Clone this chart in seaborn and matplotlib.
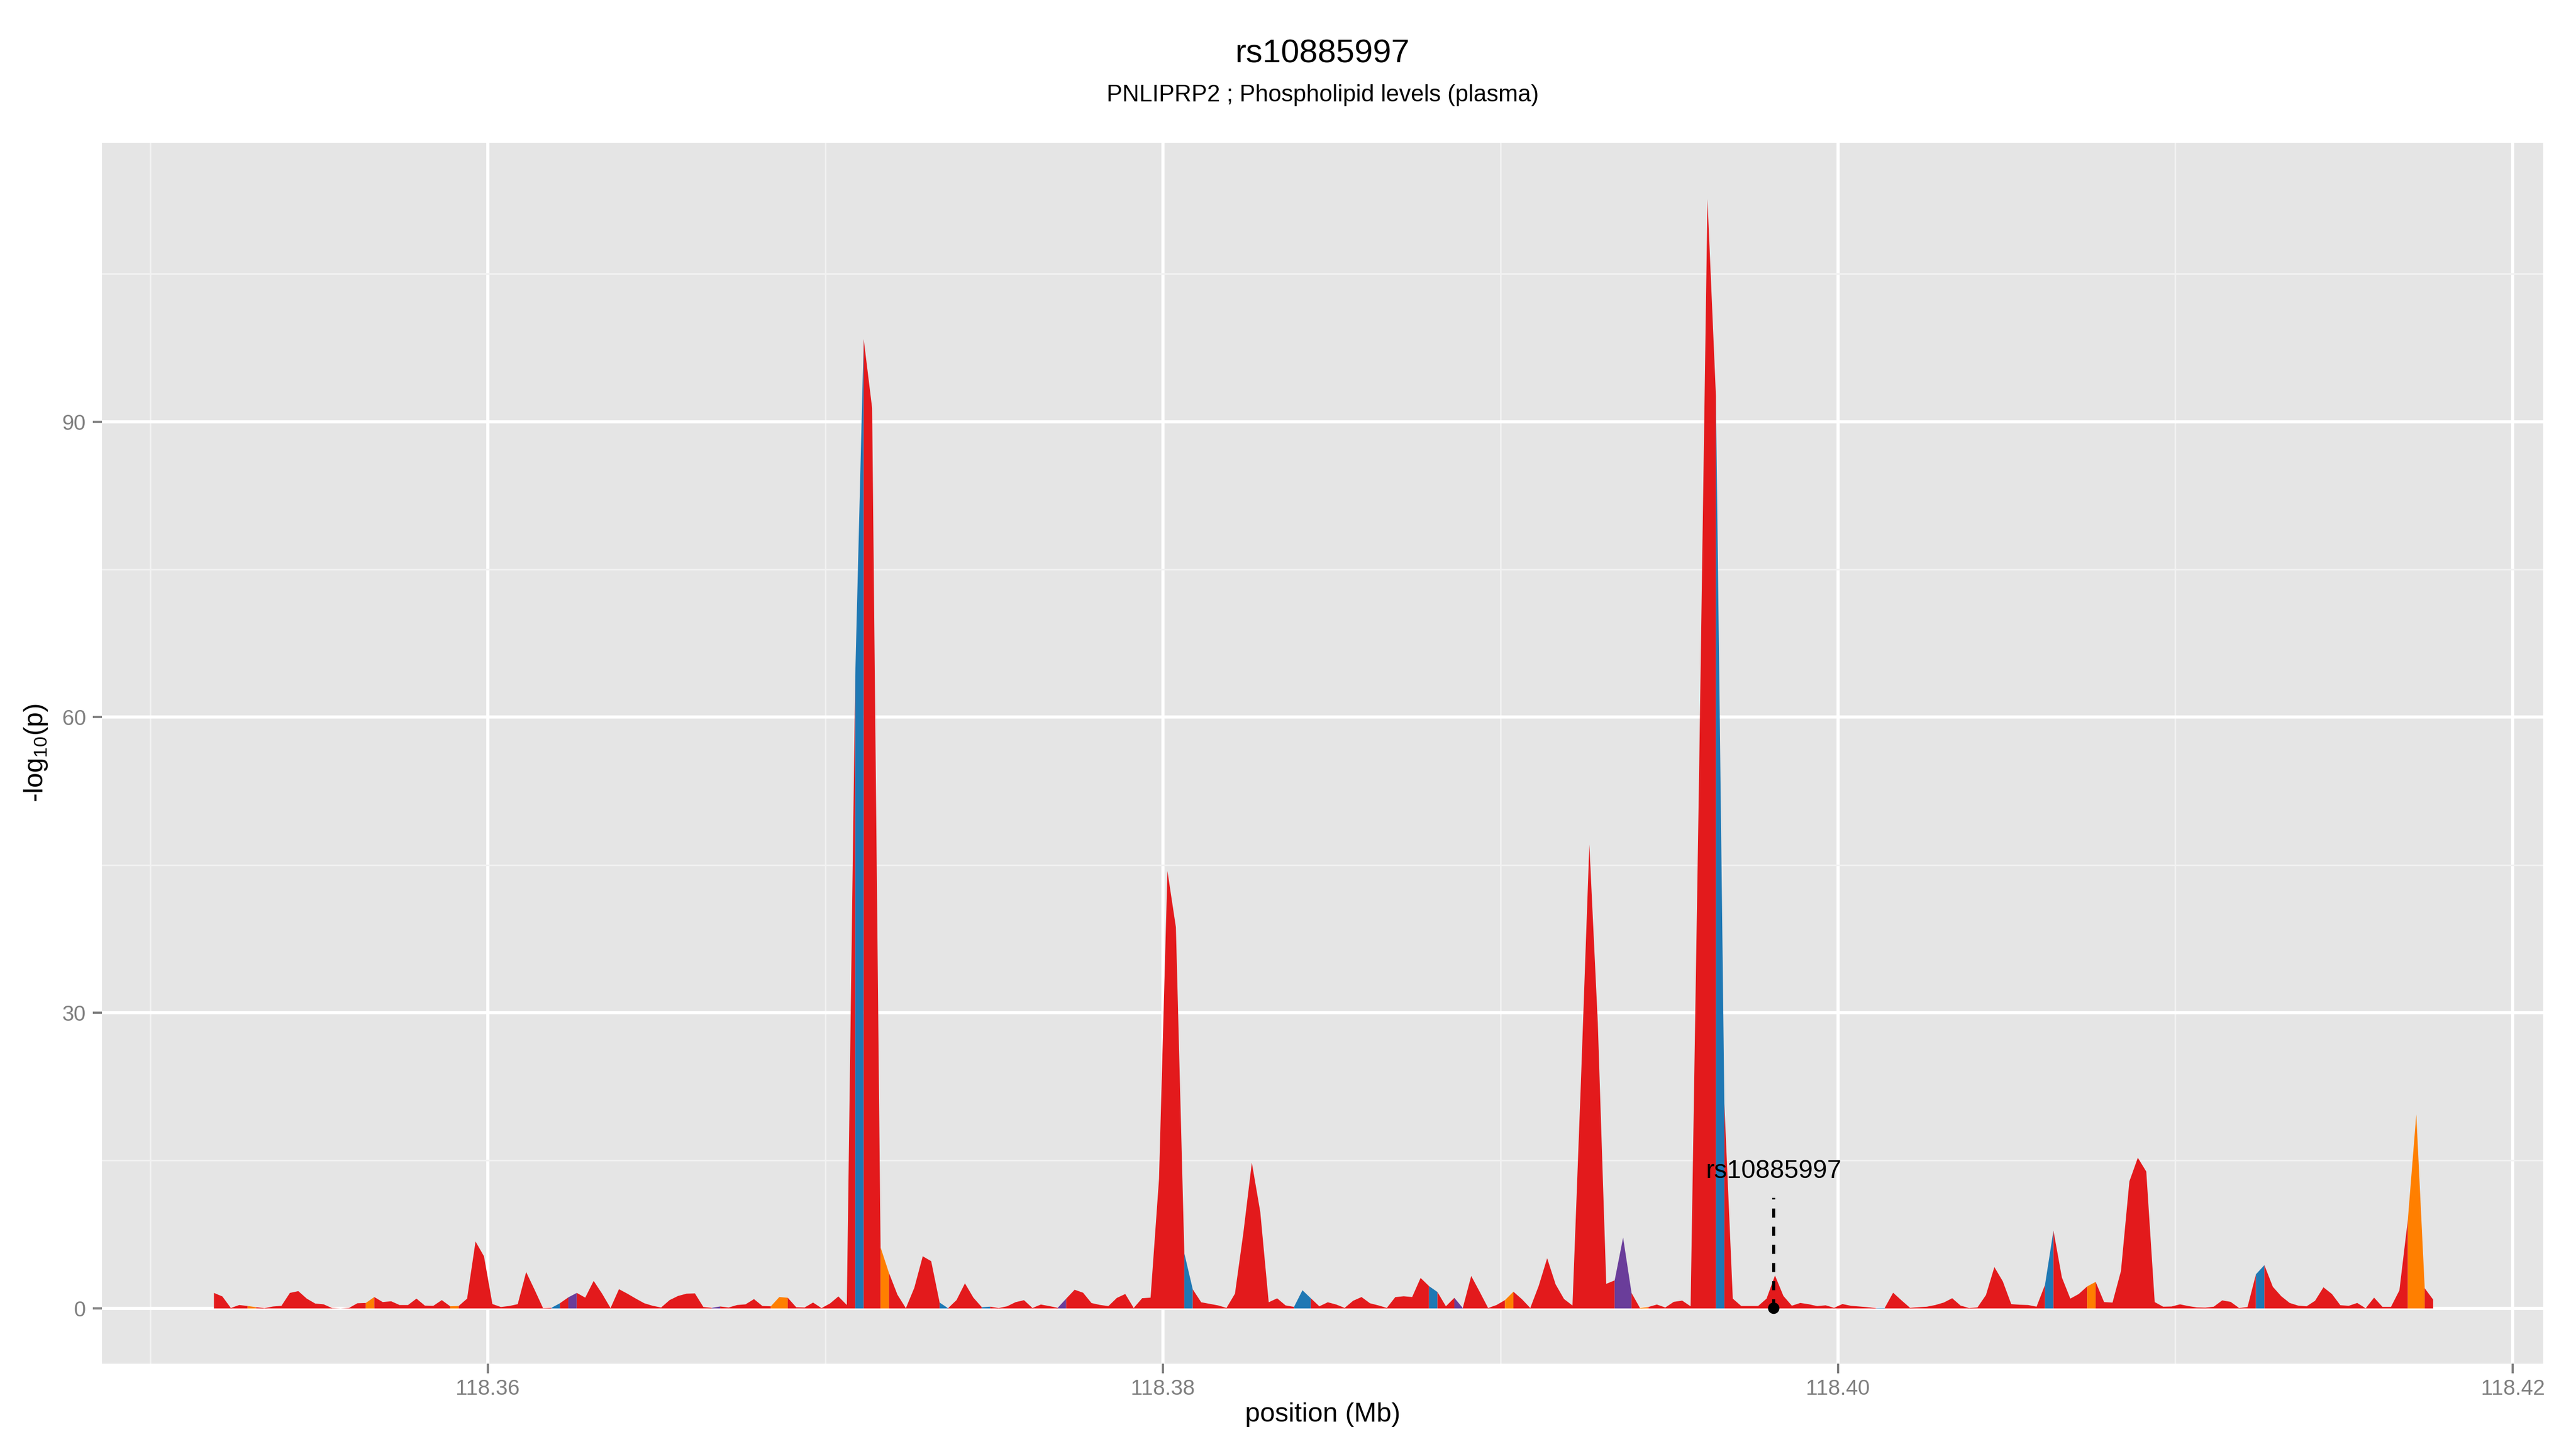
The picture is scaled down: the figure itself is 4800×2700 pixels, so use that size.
import numpy as np
import pandas as pd
import matplotlib
matplotlib.use("Agg")
import matplotlib.pyplot as plt
import seaborn as sns

# ---------------- data ----------------
title_text = "rs10885997"
subtitle_text = "PNLIPRP2 ; Phospholipid levels (plasma)"
x_label = "position (Mb)"
y_label = "-log$_{10}$(p)"

# evenly spaced bins along the region (Mb)
pos_start_mb = 118.35188
pos_step_mb = 0.00025

neglog10p = [
    1.58, 1.22, 0.05, 0.35, 0.25, 0.13, 0.04, 0.20, 0.27, 1.58,
    1.76, 1.00, 0.50, 0.42, 0.04, 0.00, 0.05, 0.53, 0.56, 1.16,
    0.65, 0.73, 0.35, 0.35, 1.00, 0.29, 0.27, 0.85, 0.22, 0.25,
    1.00, 6.80, 5.30, 0.45, 0.15, 0.25, 0.44, 3.70, 1.90, 0.04,
    0.07, 0.53, 1.13, 1.58, 1.10, 2.80, 1.50, 0.04, 1.96, 1.50,
    1.00, 0.53, 0.27, 0.10, 0.85, 1.27, 1.50, 1.53, 0.15, 0.07,
    0.20, 0.10, 0.35, 0.42, 0.95, 0.25, 0.22, 1.16, 1.09, 0.13,
    0.10, 0.60, 0.04, 0.50, 1.22, 0.35, 64.2, 98.4, 91.4, 6.20,
    3.60, 1.40, 0.03, 2.10, 5.30, 4.80, 0.60, 0.03, 0.85, 2.55,
    1.10, 0.13, 0.18, 0.05, 0.22, 0.64, 0.84, 0.05, 0.40, 0.24,
    0.07, 1.00, 1.90, 1.60, 0.55, 0.36, 0.24, 1.07, 1.47, 0.05,
    1.04, 1.10, 13.15, 44.4, 38.7, 5.60, 1.94, 0.63, 0.47, 0.31,
    0.06, 1.50, 7.70, 14.8, 9.80, 0.63, 1.03, 0.31, 0.16, 1.85,
    1.03, 0.22, 0.63, 0.40, 0.06, 0.78, 1.16, 0.53, 0.31, 0.06,
    1.15, 1.24, 1.16, 3.10, 2.27, 1.67, 0.22, 1.08, 0.05, 3.30,
    1.70, 0.05, 0.35, 0.85, 1.70, 0.95, 0.05, 2.30, 5.10, 2.45,
    0.96, 0.30, 23.0, 47.1, 29.0, 2.50, 2.85, 7.20, 1.57, 0.05,
    0.15, 0.40, 0.10, 0.67, 0.80, 0.22, 54.0, 112.6, 92.6, 20.8,
    1.00, 0.25, 0.25, 0.25, 1.00, 3.35, 1.27, 0.28, 0.56, 0.43,
    0.24, 0.32, 0.07, 0.45, 0.27, 0.20, 0.13, 0.04, 0.05, 1.60,
    0.82, 0.07, 0.13, 0.18, 0.35, 0.60, 1.04, 0.29, 0.05, 0.11,
    1.36, 4.20, 2.75, 0.44, 0.38, 0.35, 0.18, 2.40, 7.90, 3.15,
    1.00, 1.47, 2.24, 2.70, 0.65, 0.60, 3.80, 12.9, 15.3, 13.9,
    0.65, 0.18, 0.20, 0.42, 0.24, 0.11, 0.09, 0.18, 0.82, 0.67,
    0.05, 0.15, 3.47, 4.40, 2.20, 1.24, 0.56, 0.29, 0.22, 0.78,
    2.15, 1.47, 0.33, 0.27, 0.56, 0.02, 1.10, 0.16, 0.16, 1.84,
    9.00, 19.7, 2.05, 0.90,
]

# segment i joins bin i and bin i+1; default class is red
blue_segments = [40, 76, 86, 91, 115, 128, 129, 144, 178, 197, 217, 242]
orange_segments = [4, 18, 28, 66, 67, 79, 153, 169, 222, 260, 261]
purple_segments = [42, 59, 100, 147, 166, 167]

class_colors = {"red": "#E31A1C", "blue": "#1F78B4",
                "orange": "#FF7F00", "purple": "#6A3D9A"}

snp_name = "rs10885997"
snp_pos_mb = 118.3981
snp_line_top = 11.2
snp_label_y = 13.9

x_ticks = [118.36, 118.38, 118.40, 118.42]
x_tick_labels = ["118.36", "118.38", "118.40", "118.42"]
x_minor = [118.35, 118.37, 118.39, 118.41]
y_ticks = [0, 30, 60, 90]
y_minor = [15, 45, 75, 105]

# ---------------- build table ----------------
n = len(neglog10p)
df = pd.DataFrame({"pos": pos_start_mb + pos_step_mb * np.arange(n),
                   "logp": neglog10p})
seg_class = ["red"] * (n - 1)
for i in blue_segments:
    seg_class[i] = "blue"
for i in orange_segments:
    seg_class[i] = "orange"
for i in purple_segments:
    seg_class[i] = "purple"

# ---------------- style ----------------
sns.set_theme(style="darkgrid", rc={
    "axes.facecolor": "#E5E5E5",
    "figure.facecolor": "white",
    "grid.color": "white",
})
plt.rcParams["font.family"] = ["Liberation Sans", "DejaVu Sans"]
plt.rcParams["mathtext.fontset"] = "custom"
plt.rcParams["mathtext.rm"] = "Liberation Sans"
plt.rcParams["mathtext.it"] = "Liberation Sans:italic"
plt.rcParams["mathtext.bf"] = "Liberation Sans:bold"

fig = plt.figure(figsize=(16, 9), dpi=300)
L, R, B, T = 190 / 4800, 4739 / 4800, 1 - 2541 / 2700, 1 - 266 / 2700
ax = fig.add_axes([L, B, R - L, T - B])
ax.set_axisbelow(True)

# ---------------- area segments ----------------
x = df["pos"].to_numpy()
y = df["logp"].to_numpy()
start = 0
for i in range(1, n):
    if i == n - 1 or seg_class[i] != seg_class[start]:
        end = i
        ax.fill_between(x[start:end + 1], 0, y[start:end + 1],
                        color=class_colors[seg_class[start]],
                        linewidth=0, zorder=2)
        start = i

# ---------------- highlighted SNP ----------------
ax.plot([snp_pos_mb, snp_pos_mb], [0, snp_line_top], color="black",
        lw=1.4, linestyle=(0, (2.9, 2.9)), zorder=4)
sns.scatterplot(x=[snp_pos_mb], y=[0], color="black", s=26,
                edgecolor="none", ax=ax, zorder=5, legend=False)
ax.text(snp_pos_mb, snp_label_y, snp_name, ha="center", va="center",
        fontsize=11.5, color="black", zorder=6)

# ---------------- axes ----------------
ax.set_xlim(118.34857, 118.42090)
ax.set_ylim(-5.63, 118.3)
ax.set_xticks(x_ticks)
ax.set_xticklabels(x_tick_labels)
ax.set_xticks(x_minor, minor=True)
ax.set_yticks(y_ticks)
ax.set_yticks(y_minor, minor=True)
ax.grid(which="major", color="white", linewidth=1.4)
ax.grid(which="minor", color="#F2F2F2", linewidth=0.7)
for s in ax.spines.values():
    s.set_visible(False)
ax.tick_params(axis="both", which="major", length=4.2, width=1.0,
               color="#7F7F7F", labelcolor="#7F7F7F", labelsize=9.6,
               direction="out", bottom=True, left=True)
ax.tick_params(axis="x", which="major", pad=2.5)
ax.tick_params(axis="y", which="major", pad=3.0)
ax.tick_params(axis="both", which="minor", length=0)
ax.set_xlabel("")
ax.set_ylabel("")

cx = (L + R) / 2
fig.text(cx, 1 - 101 / 2700, title_text, ha="center", va="center",
         fontsize=14.8, color="black")
fig.text(cx, 1 - 178 / 2700, subtitle_text, ha="center", va="center",
         fontsize=10.5, color="black")
fig.text(cx, 1 - 2636 / 2700, x_label, ha="center", va="center",
         fontsize=12, color="black")
fig.text(67 / 4800, 1 - 1403 / 2700, y_label, ha="center", va="center",
         fontsize=12, color="black", rotation=90)

fig.savefig("out.png", dpi=300)
